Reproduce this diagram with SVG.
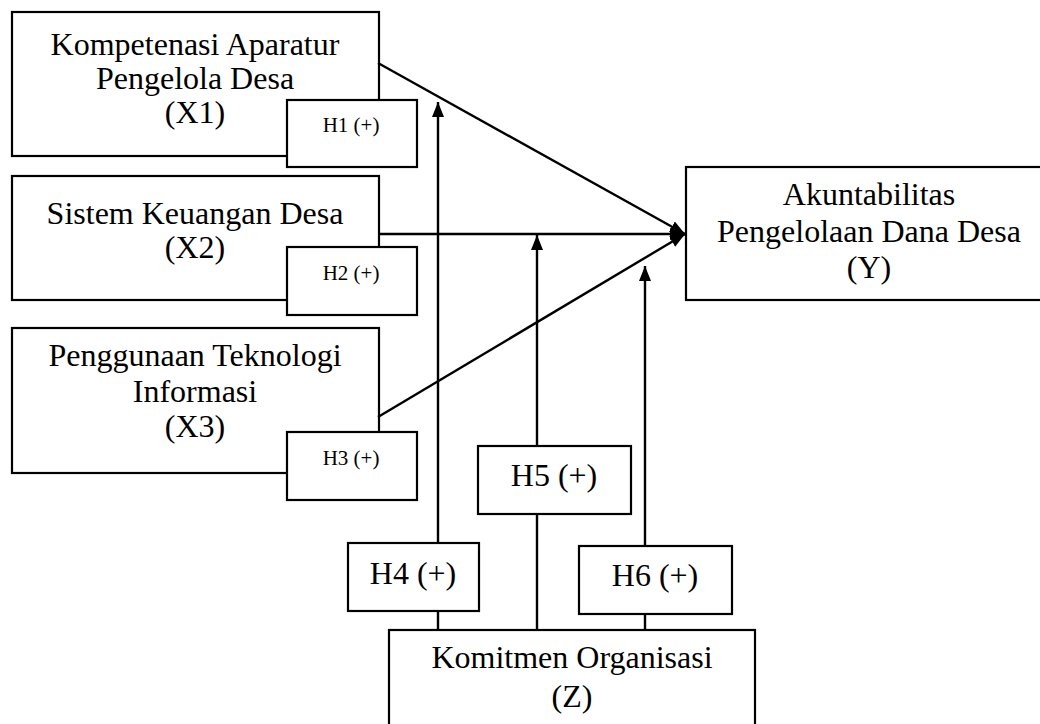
<svg xmlns="http://www.w3.org/2000/svg" width="1040" height="724" viewBox="0 0 1040 724" font-family="Liberation Serif, Times New Roman, serif">
<style>
.box{fill:#fff;stroke:#000;stroke-width:2.2}
.t{font-family:"Liberation Serif",serif;font-size:32px;fill:#000;text-anchor:middle}
.s{font-family:"Liberation Serif",serif;font-size:21px;fill:#000;text-anchor:middle}
.c{stroke:#000;stroke-width:2.4;fill:none}
</style>
<defs>
<marker id="ah" markerUnits="userSpaceOnUse" markerWidth="16" markerHeight="12" refX="15" refY="6" orient="auto">
<path d="M0,0 L15,6 L0,12 z" fill="#000"/>
</marker>
</defs>
<rect width="1040" height="724" fill="#fff"/>
<g id="X1"><rect class="box" x="12" y="12" width="367" height="144"/>
<text class="t" x="195" y="55">Kompetenasi Aparatur</text>
<text class="t" x="195" y="89">Pengelola Desa</text>
<text class="t" x="195" y="123">(X1)</text></g>
<g id="X2"><rect class="box" x="12" y="176" width="367" height="124"/>
<text class="t" x="195" y="224">Sistem Keuangan Desa</text>
<text class="t" x="195" y="258">(X2)</text></g>
<g id="X3"><rect class="box" x="12" y="328" width="367" height="145"/>
<text class="t" x="195" y="366">Penggunaan Teknologi</text>
<text class="t" x="195" y="402">Informasi</text>
<text class="t" x="195" y="437">(X3)</text></g>
<g id="Y"><rect class="box" x="686" y="167" width="380" height="133"/>
<text class="t" x="869" y="205">Akuntabilitas</text>
<text class="t" x="869" y="242">Pengelolaan Dana Desa</text>
<text class="t" x="869" y="278">(Y)</text></g>
<g id="Z"><rect class="box" x="389" y="630" width="366" height="110"/>
<text class="t" x="572" y="668">Komitmen Organisasi</text>
<text class="t" x="572" y="707">(Z)</text></g>
<g id="connectors">
<line class="c" x1="378" y1="63" x2="685" y2="234" marker-end="url(#ah)"/>
<line class="c" x1="378" y1="234" x2="685" y2="234" marker-end="url(#ah)"/>
<line class="c" x1="378" y1="417" x2="685" y2="234" marker-end="url(#ah)"/>
<line class="c" x1="438" y1="543" x2="438" y2="102" marker-end="url(#ah)"/>
<line class="c" x1="438" y1="630" x2="438" y2="611"/>
<line class="c" x1="537" y1="446" x2="537" y2="235" marker-end="url(#ah)"/>
<line class="c" x1="537" y1="630" x2="537" y2="514"/>
<line class="c" x1="645" y1="546" x2="645" y2="266" marker-end="url(#ah)"/>
<line class="c" x1="645" y1="630" x2="645" y2="614"/>
</g>
<g id="H1"><rect class="box" x="287" y="100" width="130" height="67"/>
<text class="s" x="351" y="132">H1 (+)</text></g>
<g id="H2"><rect class="box" x="287" y="247" width="130" height="68"/>
<text class="s" x="351" y="280">H2 (+)</text></g>
<g id="H3"><rect class="box" x="287" y="432" width="130" height="68"/>
<text class="s" x="351" y="465">H3 (+)</text></g>
<g id="H4"><rect class="box" x="348" y="543" width="131" height="68"/>
<text class="t" x="413" y="584">H4 (+)</text></g>
<g id="H5"><rect class="box" x="478" y="446" width="153" height="68"/>
<text class="t" x="554" y="486">H5 (+)</text></g>
<g id="H6"><rect class="box" x="579" y="546" width="153" height="68"/>
<text class="t" x="655" y="586">H6 (+)</text></g>
</svg>
